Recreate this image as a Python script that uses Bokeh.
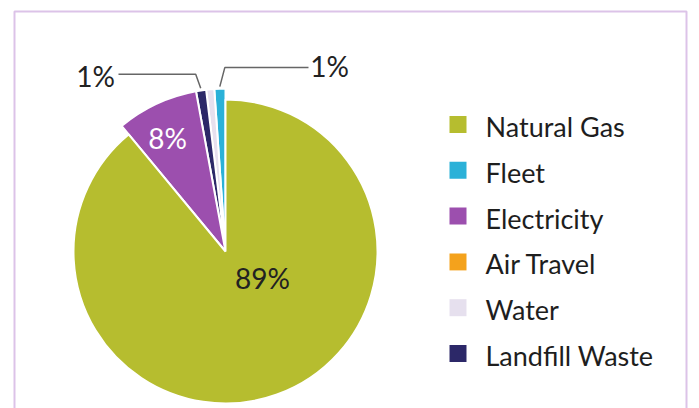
import math
from bokeh.plotting import figure
from bokeh.models import ColumnDataSource, Range1d
from bokeh.core.properties import value
from bokeh.embed import file_html
from bokeh.resources import INLINE

# ---- data ----
categories = ["Natural Gas", "Fleet", "Electricity", "Air Travel", "Water", "Landfill Waste"]
shares = [89.0, 1.1, 8.1, 0.0, 0.8, 1.0]
colors = ["#b6bd2f", "#2bb1d8", "#9c4fae", "#f4a21c", "#e6e0ee", "#2c2868"]
# order the slices are laid counter-clockwise from 12 o'clock
pie_order = ["Fleet", "Air Travel", "Water", "Landfill Waste", "Electricity", "Natural Gas"]
labels = {"Natural Gas": "89%", "Electricity": "8%", "Landfill Waste": "1%", "Fleet": "1%"}

W, H = 699, 408
p = figure(width=W, height=H, output_backend="svg", toolbar_location=None,
           x_range=Range1d(0, W), y_range=Range1d(0, H), min_border=0)
p.axis.visible = False
p.grid.visible = False
p.outline_line_color = None
p.background_fill_color = "white"
p.border_fill_color = "white"

# frame
p.multi_line(xs=[[14, 14, 686, 686]], ys=[[-20, 397, 397, -20]],
             line_color="#dcc3e8", line_width=2)

cx, cy = 225, 157
r_main, r_small = 152, 163
total = sum(shares)
share_of = dict(zip(categories, shares))
color_of = dict(zip(categories, colors))

start = math.pi / 2
rows = dict(start=[], end=[], color=[], radius=[])
mid = {}
for c in pie_order:
    ang = share_of[c] / total * 2 * math.pi
    if ang <= 0:
        continue
    rows["start"].append(start)
    rows["end"].append(start + ang)
    rows["color"].append(color_of[c])
    rows["radius"].append(r_main if c == "Natural Gas" else r_small)
    mid[c] = start + ang / 2
    start += ang
src = ColumnDataSource(rows)
p.wedge(x=cx, y=cy, radius="radius", start_angle="start", end_angle="end",
        fill_color="color", line_color="white", line_width=2, source=src)

font = value("Lato")

# inner labels
p.text(x=[cx + 37, cx - 58], y=[cy - 26, cy + 114], text=[labels["Natural Gas"], labels["Electricity"]],
       text_color=["#222222", "white"], text_font=font, text_font_size="28px",
       text_align="center", text_baseline="middle")

# leader lines for the small slices
def edge(c, r):
    a = mid[c]
    return cx + r * math.cos(a), cy + r * math.sin(a)

lx, ly = edge("Landfill Waste", r_small + 2)
fx, fx_y = edge("Fleet", r_small + 2)
p.multi_line(xs=[[lx, lx - 5, 118], [fx, fx + 5, 308]],
             ys=[[ly, ly + 14, ly + 14], [fx_y, fx_y + 19, fx_y + 19]],
             line_color="#666666", line_width=1.5)
p.text(x=[95, 329], y=[ly + 12, fx_y + 21], text=[labels["Landfill Waste"], labels["Fleet"]],
       text_color="#222222", text_font=font, text_font_size="28px",
       text_align="center", text_baseline="middle")

# legend
ly0, step = 284, 45.8
leg_y = [ly0 - i * step for i in range(len(categories))]
p.rect(x=[457.5] * len(categories), y=leg_y, width=17, height=17,
       fill_color=colors, line_color=None)
p.text(x=[485] * len(categories), y=[v - 2 for v in leg_y], text=categories,
       text_color="#1e1e1e", text_font=font, text_font_size="27px",
       text_align="left", text_baseline="middle")

open("out.html", "w").write(file_html(p, INLINE))
